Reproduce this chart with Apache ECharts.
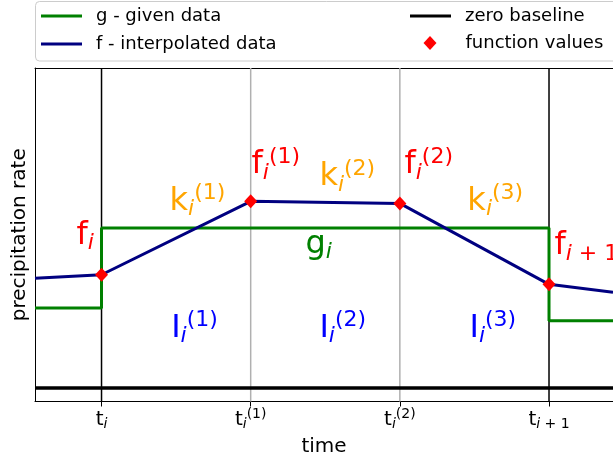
<!DOCTYPE html>
<html>
<head>
<meta charset="utf-8">
<script src="https://cdn.jsdelivr.net/npm/echarts@6/dist/echarts.min.js"></script>
<style>
html,body{margin:0;padding:0;background:#fff;}
#chart{width:613px;height:464px;}
</style>
</head>
<body>
<div id="chart"></div>
<script>
// ---- data ----
const X_MIN = -0.446, X_MAX = 3.429;
const Y_MIN = -0.084, Y_MAX = 2.0;
const tickValues = [0, 1, 2, 3];
const tickLabels = ['{m|t}{s|i}', '{m|t}{s|i}{p|(1)}', '{m|t}{s|i}{p|(2)}', '{m|t}{s|i}{sr| + 1}'];
const vlineColors = ['#000000', '#b0b0b0', '#b0b0b0', '#000000'];
const gX = [X_MIN, 0, 0, 3, 3, X_MAX];
const gY = [0.50, 0.50, 1.00, 1.00, 0.42, 0.42];
const fX = [X_MIN, 0, 1, 2, 3, X_MAX];
const fY = [0.686, 0.708, 1.167, 1.154, 0.648, 0.598];
const nodeX = [0, 1, 2, 3];
const nodeY = [0.708, 1.167, 1.154, 0.648];
const baseX = [X_MIN, X_MAX];
const baseY = [0, 0];
// annotations: [x, y, rich text, kind]
const annotations = [
  [-0.164, 0.950, '{m|f}{s|i}', 'f'],
  [1.009, 1.390, '{m|f}{s|i}{p|(1)}', 'f'],
  [2.034, 1.390, '{m|f}{s|i}{p|(2)}', 'f'],
  [3.040, 0.884, '{m|f}{s|i}{sr| + 1}', 'f'],
  [0.459, 1.1625, '{m|k}{s|i}{p|(1)}', 'k'],
  [1.464, 1.315, '{m|k}{s|i}{p|(2)}', 'k'],
  [2.456, 1.1625, '{m|k}{s|i}{p|(3)}', 'k'],
  [1.370, 0.895, '{m|g}{s|i}', 'g'],
  [0.470, 0.369, '{m|I}{s|i}{p|(1)}', 'I'],
  [1.464, 0.369, '{m|I}{s|i}{p|(2)}', 'I'],
  [2.470, 0.369, '{m|I}{s|i}{p|(3)}', 'I']
];
const kindColors = {f: '#ff0000', k: '#ffa500', g: '#008000', I: '#0000ff'};

const FONT = 'DejaVu Sans';
const zip = (a, b) => a.map((v, i) => [v, b[i]]);

const annRich = {
  m: {fontSize: 32, lineHeight: 38, fontFamily: FONT},
  s: {fontSize: 22, lineHeight: 22, fontFamily: FONT, fontStyle: 'italic', verticalAlign: 'bottom'},
  sr: {fontSize: 22, lineHeight: 22, fontFamily: FONT, verticalAlign: 'bottom'},
  p: {fontSize: 22, lineHeight: 22, fontFamily: FONT, verticalAlign: 'top'}
};
const tickRich = {
  m: {fontSize: 20, lineHeight: 24, fontFamily: FONT, color: '#000'},
  s: {fontSize: 14, lineHeight: 14, fontFamily: FONT, fontStyle: 'italic', verticalAlign: 'bottom', color: '#000'},
  sr: {fontSize: 14, lineHeight: 14, fontFamily: FONT, verticalAlign: 'bottom', color: '#000'},
  p: {fontSize: 14, lineHeight: 14, fontFamily: FONT, verticalAlign: 'top', color: '#000'}
};

const chart = echarts.init(document.getElementById('chart'), null, {renderer: 'canvas'});

const series = [];
tickValues.forEach((v, i) => {
  series.push({
    type: 'line', name: 'vline' + i, silent: true, z: 1,
    data: [[v, Y_MIN], [v, Y_MAX]], showSymbol: false, symbol: 'none',
    lineStyle: {color: vlineColors[i], width: 1.5}
  });
});
series.push({
  type: 'line', name: 'zero baseline', z: 2, silent: true,
  data: zip(baseX, baseY), symbol: 'none', color: '#000',
  lineStyle: {color: '#000', width: 3.5}
});
series.push({
  type: 'line', name: 'g - given data', z: 3, silent: true,
  data: zip(gX, gY), symbol: 'none', color: '#008000',
  lineStyle: {color: '#008000', width: 3}
});
series.push({
  type: 'line', name: 'f - interpolated data', z: 4, silent: true,
  data: zip(fX, fY), symbol: 'none', color: '#000080',
  lineStyle: {color: '#000080', width: 3}
});
series.push({
  type: 'scatter', name: 'function values', z: 5, silent: true,
  data: zip(nodeX, nodeY), symbol: 'diamond', symbolSize: [13, 14],
  itemStyle: {color: '#ff0000', opacity: 1}
});
series.push({
  type: 'scatter', name: 'annotations', z: 6, silent: true,
  symbolSize: 1, itemStyle: {color: 'rgba(0,0,0,0)', opacity: 1},
  data: annotations.map(a => ({
    value: [a[0], a[1]],
    label: {
      show: true, position: [0, 0], align: 'left', verticalAlign: 'middle', opacity: 1,
      color: kindColors[a[3]], formatter: a[2], rich: annRich
    }
  }))
});

const lineLegend = (name, color) => ({name: name, icon: 'rect', itemStyle: {color: color, borderWidth: 0, opacity: 1}});
const legendText = {fontSize: 18, color: '#000', fontFamily: FONT, padding: [0, 0, 0, 9]};

chart.setOption({
  animation: false,
  backgroundColor: '#ffffff',
  textStyle: {fontFamily: FONT},
  grid: {left: 35, right: 0, top: 68, bottom: 62.5, show: false, containLabel: false},
  graphic: [{
    type: 'rect', z: 0, silent: true,
    shape: {x: 35.5, y: 1.5, width: 620, height: 59.5, r: 4},
    style: {fill: 'rgba(255,255,255,0.8)', stroke: '#cccccc', lineWidth: 1}
  }],
  legend: [
    {left: 41, top: 7, orient: 'vertical', padding: 0, itemWidth: 41, itemHeight: 3, itemGap: 10,
     selectedMode: false, textStyle: legendText,
     data: [lineLegend('g - given data', '#008000'), lineLegend('f - interpolated data', '#000080')]},
    {left: 410, top: 7, orient: 'vertical', padding: 0, itemWidth: 41, itemHeight: 3,
     selectedMode: false, textStyle: legendText,
     data: [lineLegend('zero baseline', '#000000')]},
    {left: 423.5, top: 34, orient: 'vertical', padding: 0, itemWidth: 13, itemHeight: 14,
     selectedMode: false, textStyle: {fontSize: 18, color: '#000', fontFamily: FONT, padding: [0, 0, 0, 24]},
     data: [{name: 'function values', icon: 'diamond', itemStyle: {color: '#ff0000', opacity: 1}}]}
  ],
  xAxis: [{
    type: 'value', min: X_MIN, max: X_MAX,
    axisLine: {show: true, onZero: false, lineStyle: {color: '#000', width: 1}},
    axisTick: {show: true, customValues: tickValues, length: 5, lineStyle: {color: '#000', width: 1}},
    axisLabel: {
      show: true, customValues: tickValues, margin: 6,
      formatter: v => tickLabels[tickValues.indexOf(v)] || '', rich: tickRich
    },
    splitLine: {show: false},
    name: 'time', nameLocation: 'middle', nameGap: 32,
    nameTextStyle: {fontSize: 20, color: '#000', fontFamily: FONT}
  }, {
    type: 'value', position: 'top', min: X_MIN, max: X_MAX,
    axisLine: {show: true, onZero: false, lineStyle: {color: '#000', width: 1}},
    axisTick: {show: false}, axisLabel: {show: false}, splitLine: {show: false}
  }],
  yAxis: {
    type: 'value', min: Y_MIN, max: Y_MAX,
    axisLine: {show: true, onZero: false, lineStyle: {color: '#000', width: 1}},
    axisTick: {show: false}, axisLabel: {show: false}, splitLine: {show: false},
    name: 'precipitation rate', nameLocation: 'middle', nameGap: 5,
    nameTextStyle: {fontSize: 20, color: '#000', fontFamily: FONT}
  },
  series: series
});
</script>
</body>
</html>
